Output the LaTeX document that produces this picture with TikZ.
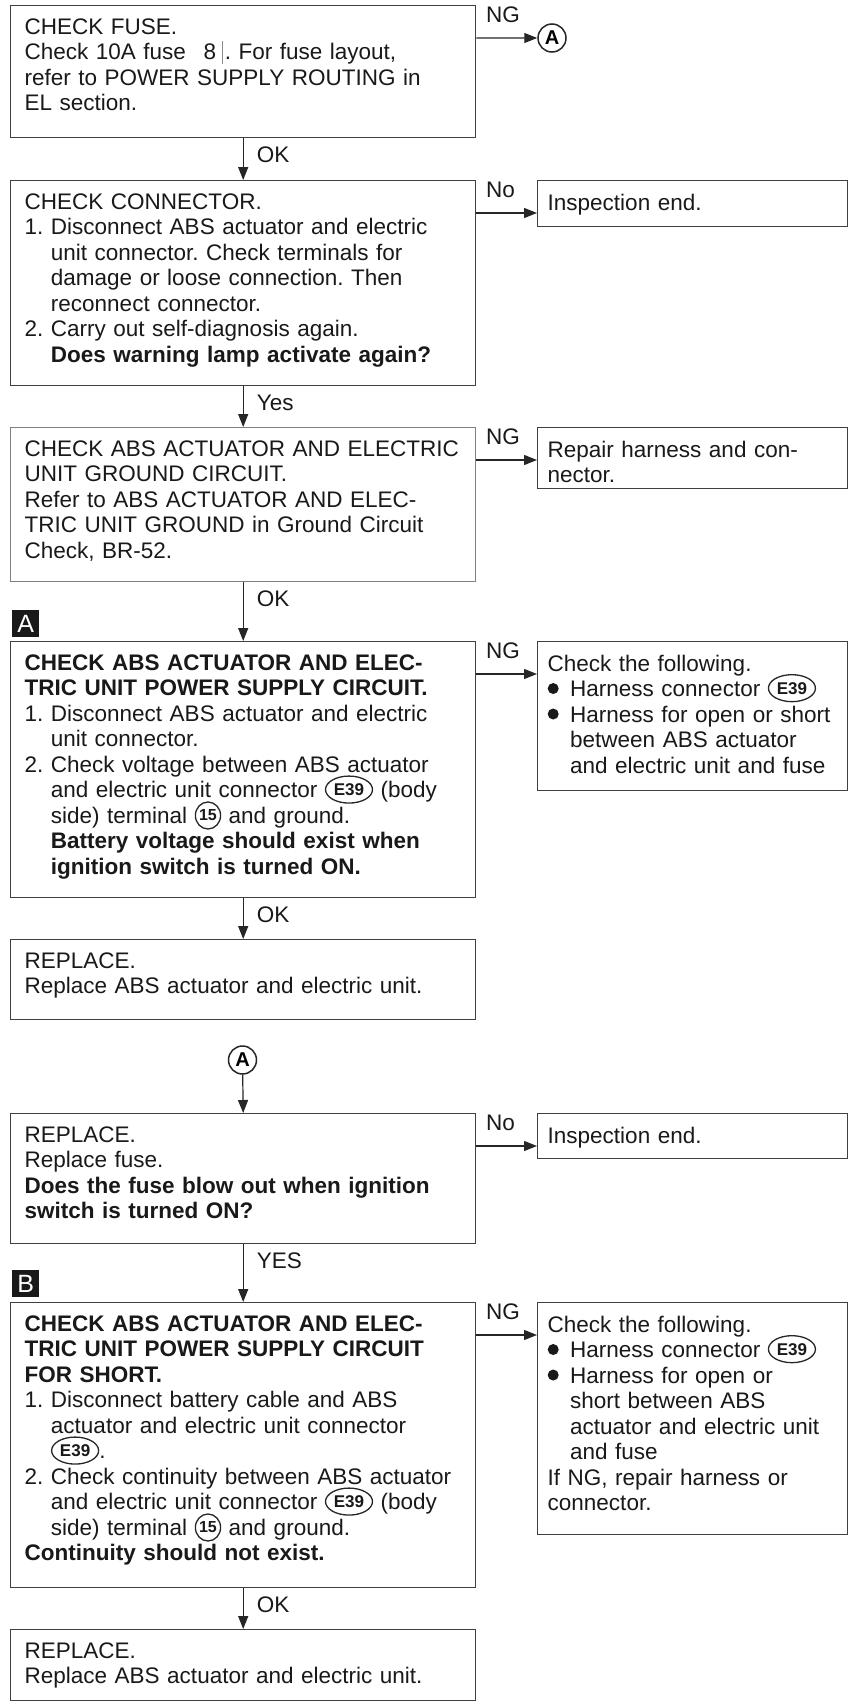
\documentclass[tikz,border=0pt]{standalone}
\usepackage{fontspec}
\setmainfont{Liberation Sans}
\usetikzlibrary{arrows.meta, shapes.geometric, positioning}

\newcommand{\bodyfont}{\fontsize{22.5bp}{25.5bp}\selectfont\frenchspacing}
% text of a box, kept at the top of a box of fixed height
\newcommand{\boxbody}[2]{\vbox to #1bp{\parindent=0pt #2\par\vfil}}
% numbered or bulleted step with hanging lines
\newcommand{\stepitem}[2]{\par\begingroup\let\\\newline\setbox0=\hbox{#1\ }\hangindent=\wd0 \hangafter=1 \noindent\box0 #2\par\endgroup}
\newcommand{\dotmark}{\raisebox{2.5bp}{\tikz\fill[black!90] (0,0) circle (5.5bp);}\hspace{4bp}}
\newcommand{\plug}[1]{\smash{\tikz[baseline={([yshift=-2.5bp]pl.base)}] \node[plugmark] (pl) {#1};}}
\newcommand{\pin}[1]{\smash{\tikz[baseline={([yshift=-2.5bp]pn.base)}] \node[pinmark] (pn) {#1};}}
\newcommand{\fusemark}{\hspace{10bp}8\hspace{6bp}\textcolor{black!45}{\rule[-4bp]{0.8bp}{23bp}}\hspace{2bp}}

\begin{document}
\begin{tikzpicture}[x=1bp, y=-1bp,
  lbox/.style={draw=black!75, line width=1.4bp, anchor=north west, inner xsep=14bp, inner ysep=13bp, text width=437bp, align=left, font=\bodyfont, text=black!90},
  rbox/.style={lbox, inner xsep=10bp, text width=290bp},
  flow/.style={draw=black!85, line width=1.2bp, -{Triangle[length=13bp, width=10bp]}},
  lab/.style={inner sep=0pt, font=\bodyfont, text=black!90},
  tag/.style={fill=black!90, text=white, anchor=north west, minimum size=27bp, inner sep=0pt, font=\fontsize{25bp}{25bp}\selectfont},
  jump/.style={circle, draw=black!85, line width=1.5bp, minimum size=28bp, inner sep=0pt, font=\bfseries\fontsize{20bp}{20bp}\selectfont},
  plugmark/.style={ellipse, draw=black!85, line width=1.3bp, minimum width=47bp, minimum height=27bp, inner sep=0pt, text width=, align=center, font=\bfseries\fontsize{17bp}{17bp}\selectfont},
  pinmark/.style={plugmark, minimum width=23bp, font=\bfseries\fontsize{16bp}{16bp}\selectfont}
]
  \path[use as bounding box, fill=white] (0,0) rectangle (855,1702);

  % main column
  \node[lbox] (fuse) at (10,5) {\boxbody{106}{CHECK FUSE.\\ Check 10A fuse \fusemark. For fuse layout,\\ refer to POWER SUPPLY ROUTING in\\ EL section.}};
  \node[lbox] (connector) at (10,180) {\boxbody{179}{CHECK CONNECTOR.
    \stepitem{1.}{Disconnect ABS actuator and electric\\ unit connector. Check terminals for\\ damage or loose connection. Then\\ reconnect connector.}
    \stepitem{2.}{Carry out self-diagnosis again.\\ \textbf{Does warning lamp activate again?}}}};
  \node[lbox, draw=black!50] (ground) at (10,427) {\boxbody{128}{CHECK ABS ACTUATOR AND ELECTRIC\\ UNIT GROUND CIRCUIT.\\ Refer to ABS ACTUATOR AND ELEC-\\ TRIC UNIT GROUND in Ground Circuit\\ Check, BR-52.}};
  \node[lbox] (supply) at (10,641) {\boxbody{230}{\textbf{CHECK ABS ACTUATOR AND ELEC-\\ TRIC UNIT POWER SUPPLY CIRCUIT.}
    \stepitem{1.}{Disconnect ABS actuator and electric\\ unit connector.}
    \stepitem{2.}{Check voltage between ABS actuator\\ and electric unit connector \plug{E39} (body\\ side) terminal \pin{15} and ground.\\ \textbf{Battery voltage should exist when\\ ignition switch is turned ON.}}}};
  \node[lbox] (replace) at (10,939) {\boxbody{54}{REPLACE.\\ Replace ABS actuator and electric unit.}};
  \node[jump] (jumpb) at (242.5,1060) {A};
  \node[lbox] (refuse) at (10,1113) {\boxbody{104}{REPLACE.\\ Replace fuse.\\ \textbf{Does the fuse blow out when ignition\\ switch is turned ON?}}};
  \node[lbox] (short) at (10,1302) {\boxbody{259}{\textbf{CHECK ABS ACTUATOR AND ELEC-\\ TRIC UNIT POWER SUPPLY CIRCUIT\\ FOR SHORT.}
    \stepitem{1.}{Disconnect battery cable and ABS\\ actuator and electric unit connector\\ \plug{E39}.}
    \stepitem{2.}{Check continuity between ABS actuator\\ and electric unit connector \plug{E39} (body\\ side) terminal \pin{15} and ground.}
    \textbf{Continuity should not exist.}}};
  \node[lbox] (replace2) at (10,1629) {\boxbody{45}{REPLACE.\\ Replace ABS actuator and electric unit.}};

  % result column
  \node[jump] (jumpa) at (552,38) {A};
  \node[rbox] (end1) at (537,180) {\boxbody{20}{Inspection end.}};
  \node[rbox] (repair) at (537,427) {\boxbody{35}{Repair harness and con-\\ nector.}};
  \node[rbox] (follow1) at (537,641) {\boxbody{123}{Check the following.
    \stepitem{\dotmark}{Harness connector \plug{E39}}
    \stepitem{\dotmark}{Harness for open or short\\ between ABS actuator\\ and electric unit and fuse}}};
  \node[rbox] (end2) at (537,1113) {\boxbody{19}{Inspection end.}};
  \node[rbox] (follow2) at (537,1302) {\boxbody{206}{Check the following.
    \stepitem{\dotmark}{Harness connector \plug{E39}}
    \stepitem{\dotmark}{Harness for open or\\ short between ABS\\ actuator and electric unit\\ and fuse}
    If NG, repair harness or\\ connector.}};

  % step tags
  \node[tag] (tagA) at (12,610) {A};
  \node[tag] (tagB) at (12,1270) {B};

  % downward flow
  \draw[flow] (fuse.south) -- (connector.north) node[lab, pos=0, anchor=north west, xshift=13bp, yshift=-8bp] {OK};
  \draw[flow] (connector.south) -- (ground.north) node[lab, pos=0, anchor=north west, xshift=13bp, yshift=-8bp] {Yes};
  \draw[flow] (ground.south) -- (supply.north) node[lab, pos=0, anchor=north west, xshift=13bp, yshift=-8bp] {OK};
  \draw[flow] (supply.south) -- (replace.north) node[lab, pos=0, anchor=north west, xshift=13bp, yshift=-8bp] {OK};
  \draw[flow] (jumpb) -- (refuse.north);
  \draw[flow] (refuse.south) -- (short.north) node[lab, pos=0, anchor=north west, xshift=13bp, yshift=-8bp] {YES};
  \draw[flow] (short.south) -- (replace2.north) node[lab, pos=0, anchor=north west, xshift=13bp, yshift=-8bp] {OK};

  % side branches
  \coordinate (ng0) at ([yshift=-33bp]fuse.north east);
  \coordinate (no1) at ([yshift=-33bp]connector.north east);
  \coordinate (ng2) at ([yshift=-33bp]ground.north east);
  \coordinate (ng3) at ([yshift=-33bp]supply.north east);
  \coordinate (no4) at ([yshift=-33bp]refuse.north east);
  \coordinate (ng5) at ([yshift=-33bp]short.north east);
  \draw[flow] (ng0) -- (jumpa) node[lab, pos=0, anchor=base west, xshift=9bp, yshift=16bp] {NG};
  \draw[flow] (no1) -- (no1 -| end1.west) node[lab, pos=0, anchor=base west, xshift=9bp, yshift=16bp] {No};
  \draw[flow] (ng2) -- (ng2 -| repair.west) node[lab, pos=0, anchor=base west, xshift=9bp, yshift=16bp] {NG};
  \draw[flow] (ng3) -- (ng3 -| follow1.west) node[lab, pos=0, anchor=base west, xshift=9bp, yshift=16bp] {NG};
  \draw[flow] (no4) -- (no4 -| end2.west) node[lab, pos=0, anchor=base west, xshift=9bp, yshift=16bp] {No};
  \draw[flow] (ng5) -- (ng5 -| follow2.west) node[lab, pos=0, anchor=base west, xshift=9bp, yshift=16bp] {NG};
\end{tikzpicture}
\end{document}
